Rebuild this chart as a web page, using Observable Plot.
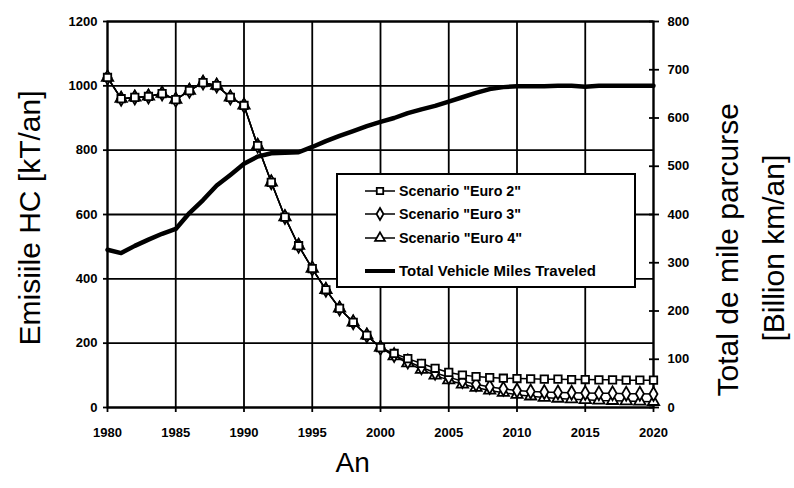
<!DOCTYPE html>
<html>
<head>
<meta charset="utf-8">
<script src="https://cdn.jsdelivr.net/npm/d3@7"></script>
<script src="https://cdn.jsdelivr.net/npm/@observablehq/plot@0.6"></script>
<style>
  html, body { margin: 0; padding: 0; background: white; }
  #chart { width: 794px; height: 488px; }
</style>
</head>
<body>
<div id="chart"></div>
<script>
// ---- data ----
const years = [1980,1981,1982,1983,1984,1985,1986,1987,1988,1989,1990,1991,1992,1993,1994,1995,1996,1997,1998,1999,2000,
               2001,2002,2003,2004,2005,2006,2007,2008,2009,2010,2011,2012,2013,2014,2015,2016,2017,2018,2019,2020];

// HC emissions [kT/an], left axis
const euro2 = [1026,960,964,967,976,957,985,1010,1001,964,939,814,700,592,503,432,366,308,265,224,
               186,168,152,137,122,109,101,96,93,91,90,89,88,88,87,87,86,86,85,85,85];
const euro3 = [1026,960,964,967,976,957,985,1010,1001,964,939,814,700,592,503,432,366,308,265,224,
               186,163,143,125,108,94,82,72,64,58,53,50,48,47,46,45,44,44,43,43,42];
const euro4 = [1026,960,964,967,976,957,985,1010,1001,964,939,814,700,592,503,432,366,308,265,224,
               186,160,138,118,100,85,72,62,53,46,40,35,31,28,26,24,22,21,20,19,18];

// Total vehicle miles traveled [Billion km/an], right axis
const vmt = [327,320,335,348,360,370,403,430,460,482,505,520,527,528,529,540,552,563,573,583,
             592,600,610,618,625,634,643,652,660,664,666,666,666,667,667,665,667,667,667,667,667];

const seriesNames = ['Scenario "Euro 2"', 'Scenario "Euro 3"', 'Scenario "Euro 4"', 'Total Vehicle Miles Traveled'];

const xTicks = [1980,1985,1990,1995,2000,2005,2010,2015,2020];
const leftTicks = [0,200,400,600,800,1000,1200];
const rightTicks = [0,100,200,300,400,500,600,700,800];

const titleLeft = "Emisiile HC [kT/an]";
const titleRight1 = "Total de mile parcurse";
const titleRight2 = "[Billion km/an]";
const titleBottom = "An";

// right axis (0–800) shares the frame with left axis (0–1200)
const k = 1200 / 800;

const rows = (arr) => years.map((yr, i) => ({year: yr, v: arr[i]}));
const vmtRows = years.map((yr, i) => ({year: yr, v: vmt[i] * k}));

const scen = [
  {data: rows(euro4), symbol: "triangle"},
  {data: rows(euro3), symbol: "diamond"},
  {data: rows(euro2), symbol: "square"}
];

const gridStyle = {stroke: "black", strokeOpacity: 1, strokeWidth: 1.8};

const plot = Plot.plot({
  width: 794,
  height: 488,
  marginLeft: 107,
  marginRight: 141,
  marginTop: 21,
  marginBottom: 81,
  x: {domain: [1980, 2020]},
  y: {domain: [0, 1200]},
  style: {fontFamily: "'Liberation Sans', Arial, sans-serif", fontSize: "13px", fontWeight: "bold", background: "white", color: "black"},
  marks: [
    Plot.gridX(xTicks, gridStyle),
    Plot.gridY(leftTicks, gridStyle),
    Plot.frame({stroke: "black", strokeWidth: 2}),
    Plot.axisX(xTicks, {tickSize: 5, tickPadding: 15, tickFormat: d => String(d), label: null, strokeWidth: 1.8}),
    Plot.axisY(leftTicks, {anchor: "left", tickSize: 4, tickPadding: 6, tickFormat: d => String(d), label: null, strokeWidth: 1.8}),
    Plot.axisY(rightTicks.map(v => v * k), {anchor: "right", tickSize: 5, tickPadding: 9, tickFormat: d => String(Math.round(d / k)), label: null, strokeWidth: 1.8}),
    Plot.axisY(rightTicks.map(v => v * k), {anchor: "right", tickSize: 5, dx: -5, tickFormat: () => "", label: null, strokeWidth: 1.8}),
    Plot.line(vmtRows, {x: "year", y: "v", stroke: "black", strokeWidth: 4.5}),
    ...scen.flatMap(s => [
      Plot.line(s.data, {x: "year", y: "v", stroke: "black", strokeWidth: 1.5}),
      Plot.dot(s.data, {x: "year", y: "v", symbol: s.symbol, r: 4.2, fill: "white", stroke: "black", strokeWidth: 1.8})
    ]),
    Plot.text([titleLeft], {frameAnchor: "left", textAnchor: "start", dx: -77, dy: 131, rotate: -90, fontSize: 30, fontWeight: "normal", ariaLabel: "t-left"}),
    Plot.text([titleRight1], {frameAnchor: "right", textAnchor: "start", dx: 75, dy: 182, rotate: -90, fontSize: 30, fontWeight: "normal", ariaLabel: "t-right1"}),
    Plot.text([titleRight2], {frameAnchor: "right", textAnchor: "start", dx: 121, dy: 127, rotate: -90, fontSize: 30, fontWeight: "normal", ariaLabel: "t-right2"}),
    Plot.text([titleBottom], {frameAnchor: "bottom", textAnchor: "start", dx: -45, dy: 64, fontSize: 28, fontWeight: "normal", ariaLabel: "t-bottom"})
  ]
});

document.getElementById("chart").appendChild(plot);

const svg = d3.select(plot);
const fit = (label, len) => svg.selectAll(`g[aria-label="${label}"] text`)
  .attr("textLength", len).attr("lengthAdjust", "spacingAndGlyphs");
fit("t-left", 280);
fit("t-right1", 345);
fit("t-right2", 210);
fit("t-bottom", 43);

// ---- legend box ----
const lg = svg.append("g").attr("class", "legend").attr("text-anchor", "start");
lg.append("rect").attr("x", 337).attr("y", 174).attr("width", 298).attr("height", 113)
  .attr("fill", "white").attr("stroke", "black").attr("stroke-width", 2);
const legendRows = [
  {name: seriesNames[0], y: 191, sym: d3.symbolSquare, w: 122},
  {name: seriesNames[1], y: 214, sym: d3.symbolDiamond, w: 122},
  {name: seriesNames[2], y: 238, sym: d3.symbolTriangle, w: 123},
  {name: seriesNames[3], y: 271, sym: null, w: 197}
];
const symArea = Math.PI * 4.2 * 4.2 * 0.75;
legendRows.forEach(r => {
  lg.append("line").attr("x1", 365).attr("x2", 395).attr("y1", r.y).attr("y2", r.y)
    .attr("stroke", "black").attr("stroke-width", r.sym ? 1.5 : 4);
  if (r.sym) {
    lg.append("path").attr("d", d3.symbol(r.sym, symArea)())
      .attr("transform", `translate(380,${r.y})`)
      .attr("fill", "white").attr("stroke", "black").attr("stroke-width", 1.8);
  }
  lg.append("text").attr("x", 399).attr("y", r.y).attr("dy", "0.36em")
    .attr("text-anchor", "start")
    .attr("font-size", 14).attr("font-weight", "bold")
    .attr("textLength", r.w).attr("lengthAdjust", "spacingAndGlyphs")
    .text(r.name);
});
</script>
</body>
</html>
